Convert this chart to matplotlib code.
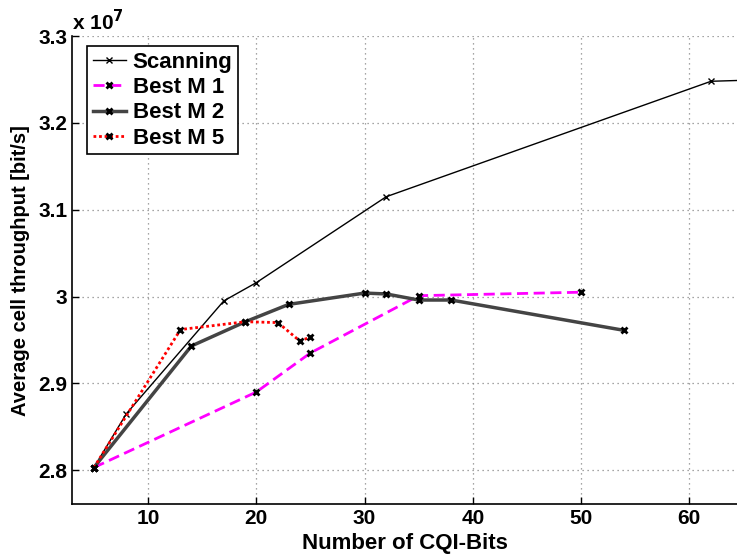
import matplotlib
matplotlib.use("Agg")
import matplotlib.pyplot as plt

plt.rcParams["font.family"] = ["Liberation Sans", "DejaVu Sans"]
plt.rcParams["font.weight"] = "bold"

# data (throughput in units of 1e7 bit/s)
scan_x = [5, 8, 17, 20, 32, 62, 66]
scan_y = [2.803, 2.865, 2.995, 3.016, 3.115, 3.248, 3.2495]

m1_x = [5, 20, 25, 35, 50]
m1_y = [2.803, 2.890, 2.935, 3.001, 3.005]

m2_x = [5, 14, 19, 23, 30, 32, 35, 38, 54]
m2_y = [2.803, 2.943, 2.971, 2.991, 3.004, 3.003, 2.996, 2.996, 2.961]

m5_x = [5, 13, 19, 22, 24, 25]
m5_y = [2.803, 2.962, 2.971, 2.970, 2.949, 2.953]

x_ticks = [10, 20, 30, 40, 50, 60]
y_ticks = [2.8, 2.9, 3.0, 3.1, 3.2, 3.3]
y_tick_labels = ["2.8", "2.9", "3", "3.1", "3.2", "3.3"]

fig = plt.figure(figsize=(7.37, 5.56), dpi=100)
ax = fig.add_axes([0.098, 0.0935, 0.902, 0.8415])

ax.plot(scan_x, scan_y, color="black", lw=1.0, marker="x", ms=5, mew=1.0,
        label="Scanning")
ax.plot(m1_x, m1_y, color="#ff00ff", lw=2.0, ls=(0, (4, 2)), marker="x", ms=5,
        mew=2, mec="black", label="Best M 1")
ax.plot(m2_x, m2_y, color="#444444", lw=2.5, marker="x", ms=5, mew=2,
        mec="black", label="Best M 2")
ax.plot(m5_x, m5_y, color="#ff0000", lw=2.0, ls=(0, (1, 1)), marker="x", ms=5,
        mew=2, mec="black", label="Best M 5")

ax.set_xlim(3, 64.4)
ax.set_ylim(2.761, 3.3)
ax.set_xticks(x_ticks)
ax.set_yticks(y_ticks)
ax.set_yticklabels(y_tick_labels)
ax.tick_params(direction="in", labelsize=15, length=5, width=1)
for lab in ax.get_xticklabels() + ax.get_yticklabels():
    lab.set_fontweight("bold")

ax.grid(True, ls=(0, (1, 3)), color="#888888", lw=0.9)
for s in ["top", "right"]:
    ax.spines[s].set_visible(False)
ax.spines["left"].set_linewidth(1.2)
ax.spines["bottom"].set_linewidth(1.2)

ax.set_xlabel("Number of CQI-Bits", fontsize=16, fontweight="bold", labelpad=4)
ax.set_ylabel("Average cell throughput [bit/s]", fontsize=14.5, fontweight="bold",
              labelpad=6)
ax.text(0.0, 1.005, r"x 10$^{7}$", transform=ax.transAxes, fontsize=15,
        fontweight="bold", ha="left", va="bottom")

leg = ax.legend(loc="upper left", bbox_to_anchor=(0.0226, 0.979),
                handlelength=1.5, handletextpad=0.3, labelspacing=0.2,
                borderpad=0.25, borderaxespad=0, fancybox=False, framealpha=1,
                edgecolor="black", prop={"weight": "bold", "size": 16})
leg.get_frame().set_linewidth(1.2)

fig.savefig("out.png", dpi=100)
